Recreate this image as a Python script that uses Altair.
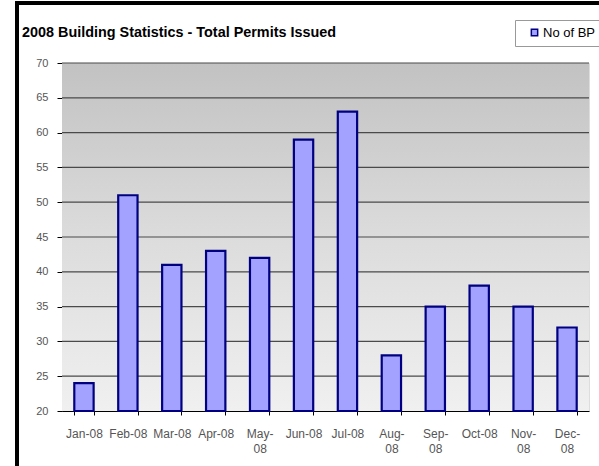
import altair as alt
import pandas as pd

months = ["Jan-08", "Feb-08", "Mar-08", "Apr-08", "May-08", "Jun-08",
          "Jul-08", "Aug-08", "Sep-08", "Oct-08", "Nov-08", "Dec-08"]
permits = [24, 51, 41, 43, 42, 59, 63, 28, 35, 38, 35, 32]
wrapped = ["May-08", "Aug-08", "Sep-08", "Nov-08", "Dec-08"]
series_name = "No of BP"
y_ticks = [20, 25, 30, 35, 40, 45, 50, 55, 60, 65, 70]
grid_values = [25, 30, 35, 40, 45, 50, 55, 60, 65, 70]

df = pd.DataFrame({"month": months, "value": permits, "series": [series_name] * len(months)})
grid_df = pd.DataFrame({"g": grid_values})

W, H = 527, 348

wrap_list = "[" + ",".join("'%s'" % m for m in wrapped) + "]"
label_expr = ("indexof(%s, datum.label) >= 0 ? [split(datum.label, '-')[0] + '-', split(datum.label, '-')[1]] : datum.label" % wrap_list)

y_scale = alt.Scale(domain=[20, 70], nice=False, zero=False)
y_axis = alt.Axis(values=y_ticks, labelColor="#555555", labelFont="Liberation Sans",
                  labelFontSize=11, tickColor="#000", tickSize=5,
                  domainColor="#000", grid=False, labelPadding=9)

bg = alt.Chart(df).mark_rect(
    color=alt.Gradient(
        gradient="linear", x1=0, y1=0, x2=0, y2=1,
        stops=[alt.GradientStop(color="#c2c2c2", offset=0),
               alt.GradientStop(color="#dcdcdc", offset=0.5),
               alt.GradientStop(color="#f0f0f0", offset=1)]
    )
).encode(x=alt.value(0), x2=alt.value(W), y=alt.value(0), y2=alt.value(H))

grid = alt.Chart(grid_df).mark_rule(color="#4a4a4a", strokeWidth=1.2).encode(
    y=alt.Y("g:Q", scale=y_scale, axis=y_axis, title=None),
    x=alt.value(0), x2=alt.value(W))

bars = alt.Chart(df).mark_bar(stroke="#000080", strokeWidth=2.2).encode(
    x=alt.X("month:N", sort=months, title=None,
            scale=alt.Scale(paddingInner=0.56, paddingOuter=0.28),
            axis=alt.Axis(labelAngle=0, labelExpr=label_expr, labelColor="#555555",
                          labelFont="Liberation Sans", labelFontSize=12,
                          tickBand="extent", tickColor="#000", tickSize=4,
                          domainColor="#000", labelPadding=13, labelLineHeight=15,
                          labelBaseline="top")),
    y=alt.Y("value:Q", title=None, scale=y_scale, axis=y_axis),
    y2=alt.datum(20),
    color=alt.Color("series:N", scale=alt.Scale(range=["#a3a3ff"]), title=None,
                    legend=alt.Legend(orient="none", legendX=453, legendY=-43,
                                      strokeColor="#999999", padding=6,
                                      symbolType="square", symbolSize=40,
                                      symbolStrokeColor="#000080", symbolStrokeWidth=1.5,
                                      labelFont="Liberation Sans", labelFontSize=13,
                                      labelColor="#000", fillColor="white",
                                      symbolOffset=7, labelOffset=2))
)

border = alt.Chart(df).mark_rule(color="#000", strokeWidth=3).encode(
    x=alt.value(-45), x2=alt.value(-45), y=alt.value(-60), y2=alt.value(H + 60))
border_top = alt.Chart(df).mark_rule(color="#000", strokeWidth=3).encode(
    x=alt.value(-46.5), x2=alt.value(W + 20), y=alt.value(-60), y2=alt.value(-60))

chart = alt.layer(bg, grid, bars, border, border_top).properties(
    width=W, height=H,
    title=alt.TitleParams("2008 Building Statistics - Total Permits Issued",
                          anchor="start", frame="group", dx=-40, offset=24, dy=63,
                          font="Liberation Sans", fontSize=14.4, fontWeight="bold",
                          color="#000"),
    autosize=alt.AutoSizeParams(type="none"),
    padding={"left": 62, "top": 63, "right": 10, "bottom": 55},
).configure_view(stroke="#808080", strokeWidth=1.5).configure(background="white")

chart.save("out.html", embed_options={"renderer": "svg", "actions": False})
